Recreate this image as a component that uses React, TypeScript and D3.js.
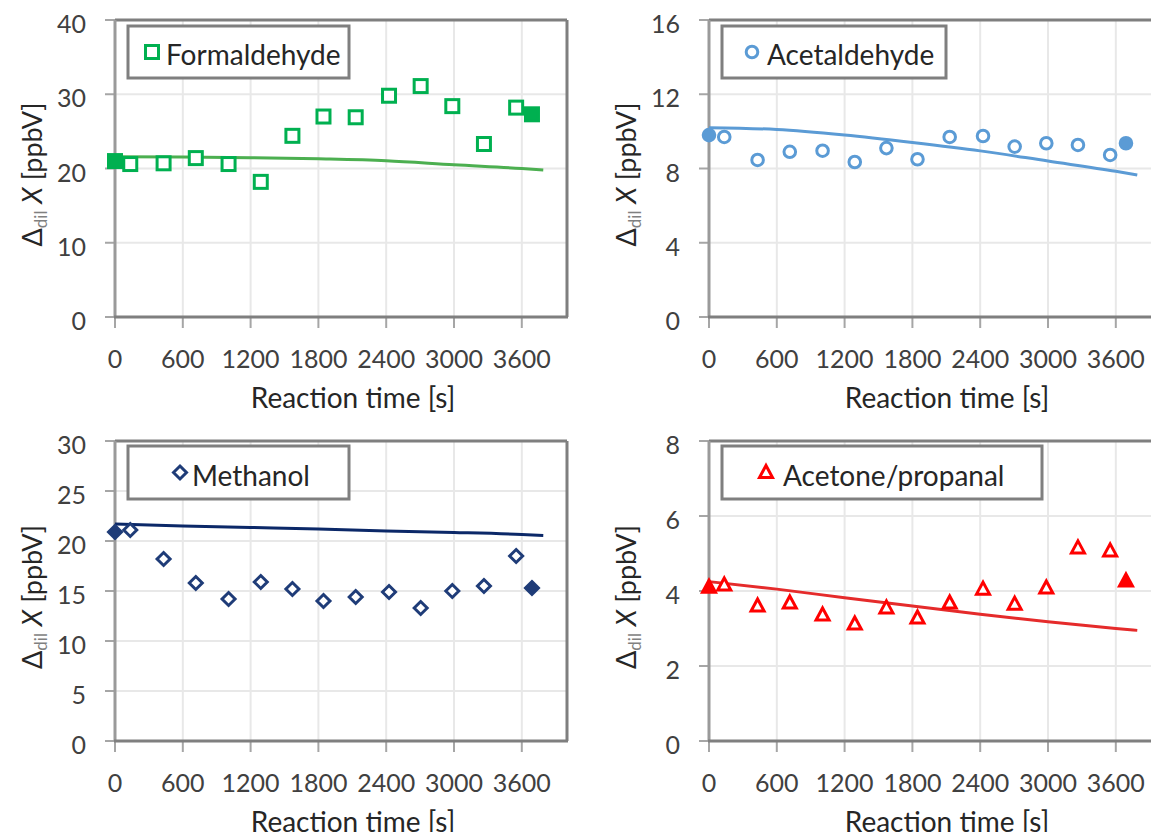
import React from "react";
import * as d3 from "d3";

// ---------- data ----------
const sampleTimes = [135, 430, 715, 1005, 1290, 1570, 1845, 2130, 2425, 2705, 2985, 3265, 3550];
const endTimes = [0, 3690];
const modelTimes = [0, 600, 1200, 1800, 2400, 3000, 3600, 3790];
const xTicks = [0, 600, 1200, 1800, 2400, 3000, 3600];

const formaldehydeOpen = [20.6, 20.7, 21.4, 20.6, 18.2, 24.4, 27.0, 26.9, 29.8, 31.1, 28.4, 23.3, 28.2];
const formaldehydeFilled = [21.0, 27.3];
const formaldehydeModel = [21.6, 21.55, 21.45, 21.3, 21.05, 20.5, 20.0, 19.8];

const acetaldehydeOpen = [9.7, 8.46, 8.9, 8.96, 8.35, 9.1, 8.5, 9.7, 9.75, 9.18, 9.36, 9.27, 8.73];
const acetaldehydeFilled = [9.8, 9.36];
const acetaldehydeModel = [10.2, 10.1, 9.8, 9.4, 8.95, 8.4, 7.85, 7.65];

const methanolOpen = [21.1, 18.2, 15.8, 14.2, 15.9, 15.2, 14.0, 14.4, 14.9, 13.3, 15.0, 15.5, 18.5];
const methanolFilled = [20.9, 15.3];
const methanolModel = [21.7, 21.5, 21.35, 21.2, 21.0, 20.85, 20.65, 20.55];

const acetoneOpen = [4.16, 3.6, 3.68, 3.36, 3.12, 3.55, 3.28, 3.68, 4.05, 3.65, 4.08, 5.15, 5.07];
const acetoneFilled = [4.1, 4.27];
const acetoneModel = [4.25, 4.05, 3.82, 3.6, 3.38, 3.18, 3.0, 2.95];

const FONT = "Lato, 'Open Sans', sans-serif";

type Shape = "square" | "circle" | "diamond" | "triangle";

function Marker({ shape, x, y, color, filled }: { shape: Shape; x: number; y: number; color: string; filled: boolean }) {
  const fill = filled ? color : "white";
  const sw = 3;
  if (shape === "square") return <rect x={x - 6.5} y={y - 6.5} width={13} height={13} fill={fill} stroke={color} strokeWidth={sw} />;
  if (shape === "circle") return <circle cx={x} cy={y} r={5.8} fill={fill} stroke={color} strokeWidth={sw} />;
  if (shape === "diamond")
    return <path d={`M${x},${y - 6.5}L${x + 6.5},${y}L${x},${y + 6.5}L${x - 6.5},${y}Z`} fill={fill} stroke={color} strokeWidth={sw} />;
  return <path d={`M${x},${y - 7}L${x + 6.5},${y + 5}L${x - 6.5},${y + 5}Z`} fill={fill} stroke={color} strokeWidth={sw} strokeLinejoin="miter" />;
}

type PanelProps = {
  left: number; top: number; bottom: number;
  yMax: number; yStep: number;
  name: string; shape: Shape; markerColor: string; lineColor: string;
  open: number[]; filled: number[]; model: number[];
  legend: { x0: number; x1: number; y0: number; y1: number; mx: number; tx: number };
};

function Panel(p: PanelProps) {
  const x = d3.scaleLinear().domain([0, 4000]).range([p.left, p.left + 452]);
  const y = d3.scaleLinear().domain([0, p.yMax]).range([p.bottom, p.top]);
  const yTicks = d3.range(0, p.yMax + p.yStep / 2, p.yStep);
  const line = d3.line<number>().x((_, i) => x(modelTimes[i])).y((d) => y(d)).curve(d3.curveMonotoneX);
  const right = x(4000);
  const cy = (p.top + p.bottom) / 2 + 6;
  const cx = (p.left + right) / 2 + 12;
  const ly = (p.legend.y0 + p.legend.y1) / 2;
  return (
    <g>
      {/* gridlines */}
      {yTicks.map((t) => (
        <line key={"gy" + t} x1={p.left} x2={right} y1={y(t)} y2={y(t)} stroke="#e8e8e8" strokeWidth={2} />
      ))}
      {xTicks.map((t) => (
        <line key={"gx" + t} x1={x(t)} x2={x(t)} y1={p.top} y2={p.bottom} stroke="#e8e8e8" strokeWidth={2} />
      ))}
      {/* tick marks */}
      {yTicks.map((t) => (
        <line key={"ty" + t} x1={p.left - 10} x2={p.left} y1={y(t)} y2={y(t)} stroke="#a6a6a6" strokeWidth={2} />
      ))}
      {xTicks.map((t) => (
        <line key={"tx" + t} x1={x(t)} x2={x(t)} y1={p.bottom} y2={p.bottom + 11} stroke="#a6a6a6" strokeWidth={2} />
      ))}
      {/* frame */}
      <line x1={p.left} x2={right} y1={p.top} y2={p.top} stroke="#7f7f7f" strokeWidth={3} />
      <line x1={right} x2={right} y1={p.top} y2={p.bottom} stroke="#7f7f7f" strokeWidth={3} />
      <line x1={p.left} x2={p.left} y1={p.top} y2={p.bottom} stroke="#9a9a9a" strokeWidth={3} />
      <line x1={p.left - 1} x2={right + 1} y1={p.bottom} y2={p.bottom} stroke="#7f7f7f" strokeWidth={3} />
      {/* tick labels */}
      {yTicks.map((t) => (
        <text key={"ly" + t} x={p.left - 29} y={y(t) + 3} textAnchor="end" dominantBaseline="central" fontSize={25} fill="#404040" fontFamily={FONT}>
          {t}
        </text>
      ))}
      {xTicks.map((t) => (
        <text key={"lx" + t} x={x(t)} y={p.bottom + 41} textAnchor="middle" dominantBaseline="central" fontSize={25} fill="#404040" fontFamily={FONT}>
          {t}
        </text>
      ))}
      {/* axis titles */}
      <text x={cx} y={p.bottom + 80} textAnchor="middle" dominantBaseline="central" fontSize={28} fill="#262626" fontFamily={FONT}>
        Reaction time [s]
      </text>
      <text transform={`translate(${p.left - 73},${cy}) rotate(-90)`} textAnchor="middle" fontSize={27} fill="#262626" fontFamily={FONT}>
        Δ<tspan fontSize={17} dy={5} fill="#808080">dil</tspan>
        <tspan dy={-5}> </tspan>
        <tspan fontStyle="italic">X</tspan> [ppbV]
      </text>
      {/* model line */}
      <path d={line(p.model) ?? ""} fill="none" stroke={p.lineColor} strokeWidth={3} />
      {/* points */}
      {p.open.map((v, i) => (
        <Marker key={"o" + i} shape={p.shape} x={x(sampleTimes[i])} y={y(v)} color={p.markerColor} filled={false} />
      ))}
      {p.filled.map((v, i) => (
        <Marker key={"f" + i} shape={p.shape} x={x(endTimes[i])} y={y(v)} color={p.markerColor} filled={true} />
      ))}
      {/* legend */}
      <rect x={p.legend.x0} y={p.legend.y0} width={p.legend.x1 - p.legend.x0} height={p.legend.y1 - p.legend.y0} fill="white" stroke="#7f7f7f" strokeWidth={3} />
      <Marker shape={p.shape} x={p.legend.mx} y={ly} color={p.markerColor} filled={false} />
      <text x={p.legend.tx} y={ly + 2} dominantBaseline="central" fontSize={28} fill="#262626" fontFamily={FONT}>
        {p.name}
      </text>
    </g>
  );
}

export default function App() {
  return (
    <svg width={1151} height={832} style={{ position: "absolute", left: 0, top: 0, background: "white" }}>
      <rect x={0} y={0} width={1151} height={832} fill="white" />
      <Panel left={115} top={20} bottom={317} yMax={40} yStep={10} name="Formaldehyde" shape="square"
        markerColor="#00b050" lineColor="#4caf50" open={formaldehydeOpen} filled={formaldehydeFilled} model={formaldehydeModel}
        legend={{ x0: 128, x1: 349, y0: 26, y1: 78, mx: 152, tx: 166 }} />
      <Panel left={709} top={20} bottom={317} yMax={16} yStep={4} name="Acetaldehyde" shape="circle"
        markerColor="#5b9bd5" lineColor="#5b9bd5" open={acetaldehydeOpen} filled={acetaldehydeFilled} model={acetaldehydeModel}
        legend={{ x0: 722, x1: 946, y0: 26, y1: 78, mx: 752, tx: 767 }} />
      <Panel left={115} top={441} bottom={741} yMax={30} yStep={5} name="Methanol" shape="diamond"
        markerColor="#1f3c78" lineColor="#0b2868" open={methanolOpen} filled={methanolFilled} model={methanolModel}
        legend={{ x0: 128, x1: 349, y0: 446, y1: 499, mx: 180, tx: 192 }} />
      <Panel left={709} top={441} bottom={741} yMax={8} yStep={2} name="Acetone/propanal" shape="triangle"
        markerColor="#ff0000" lineColor="#e52b2b" open={acetoneOpen} filled={acetoneFilled} model={acetoneModel}
        legend={{ x0: 722, x1: 1042, y0: 446, y1: 499, mx: 766, tx: 783 }} />
    </svg>
  );
}
